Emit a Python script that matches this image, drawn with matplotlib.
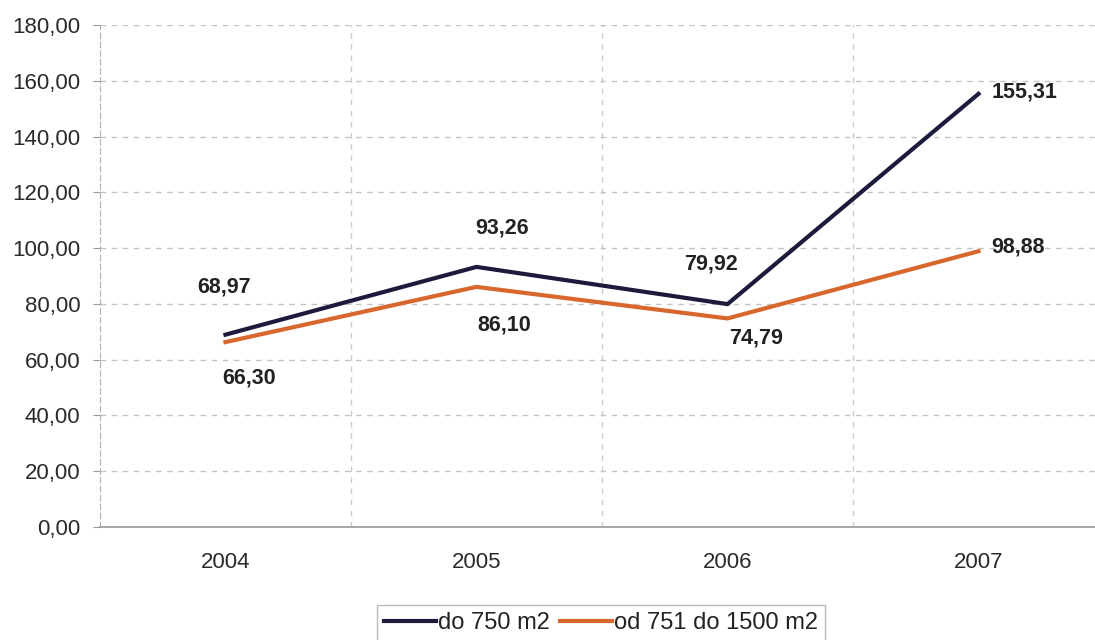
import matplotlib
matplotlib.use("Agg")
import matplotlib.pyplot as plt
from matplotlib.ticker import FixedLocator, FuncFormatter

plt.rcParams["font.family"] = ["Liberation Sans", "DejaVu Sans"]

years = ["2004", "2005", "2006", "2007"]
small_lots = [68.97, 93.26, 79.92, 155.31]
medium_lots = [66.30, 86.10, 74.79, 98.88]
series_names = ["do 750 m2", "od 751 do 1500 m2"]
y_ticks = [0, 20, 40, 60, 80, 100, 120, 140, 160, 180]

# label offsets in pixels (dx, dy, horizontal alignment)
small_offsets = [(-1, 48, "center"), (26, 39, "center"), (-16, 40, "center"), (13, 2, "left")]
medium_offsets = [(24, -36, "center"), (28, -38, "center"), (29, -20, "center"), (13, 4, "left")]

navy = "#1c1b3c"
orange = "#d8672e"

fig = plt.figure(figsize=(10.95, 6.4), dpi=100)
ax = fig.add_axes([100 / 1095, (640 - 527) / 640, 1004 / 1095, 502 / 640])

x = list(range(len(years)))
ax.plot(x, small_lots, color=navy, lw=3, solid_joinstyle="miter", label=series_names[0], zorder=3)
ax.plot(x, medium_lots, color=orange, lw=3, solid_joinstyle="miter", label=series_names[1], zorder=3)

def fmt(v):
    return f"{v:.2f}".replace(".", ",")

for xi, v, (dx, dy, ha) in zip(x, small_lots, small_offsets):
    ax.annotate(fmt(v), (xi, v), xytext=(dx, dy), textcoords="offset pixels",
                ha=ha, va="center", fontsize=15.5, fontweight="bold", color="#222222")
for xi, v, (dx, dy, ha) in zip(x, medium_lots, medium_offsets):
    ax.annotate(fmt(v), (xi, v), xytext=(dx, dy), textcoords="offset pixels",
                ha=ha, va="center", fontsize=15.5, fontweight="bold", color="#222222")

ax.set_xlim(-0.5, 3.5)
ax.set_ylim(0, 180)
ax.yaxis.set_major_locator(FixedLocator(y_ticks))
ax.yaxis.set_major_formatter(FuncFormatter(lambda v, p: fmt(v)))
ax.set_xticks(x)
ax.set_xticklabels(years)
ax.xaxis.set_minor_locator(FixedLocator([0.5, 1.5, 2.5]))

ax.grid(axis="y", which="major", color="#c4c4c4", linestyle=(0, (4, 4)), lw=1)
ax.grid(axis="x", which="minor", color="#cccccc", linestyle=(0, (4, 4)), lw=1)

for s in ["top", "right"]:
    ax.spines[s].set_visible(False)
ax.spines["left"].set_color("#b0b0b0")
ax.spines["left"].set_linestyle((0, (5, 3)))
ax.spines["bottom"].set_color("#999999")
ax.spines["bottom"].set_linewidth(1.2)

ax.tick_params(axis="y", length=5, color="#999999", labelsize=16, labelcolor="#2a2a2a", pad=9)
ax.tick_params(axis="x", which="both", length=0, labelsize=16, labelcolor="#2a2a2a", pad=18)

leg = fig.legend(loc="center", bbox_to_anchor=(601 / 1095, 1 - 623 / 640), ncol=2,
                 frameon=True, fontsize=17, handlelength=2.2, handletextpad=0.1,
                 columnspacing=0.4, borderpad=0.3, fancybox=False)
leg.get_frame().set_edgecolor("#aaaaaa")
leg.get_frame().set_linewidth(1)
for t in leg.get_texts():
    t.set_color("#222222")

fig.savefig("out.png", dpi=100)
